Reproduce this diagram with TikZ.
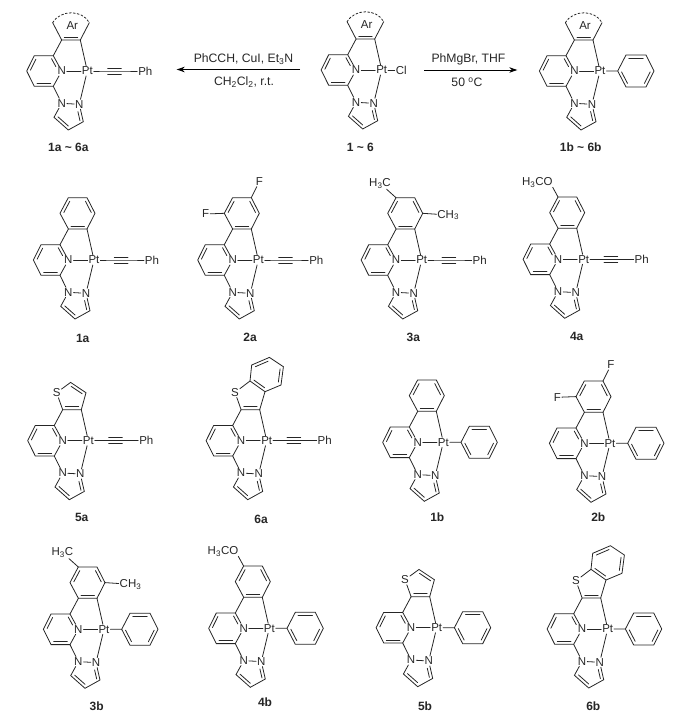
\documentclass[tikz,border=0pt]{standalone}
\usepackage{fontspec}
\setmainfont{Liberation Sans}
\usetikzlibrary{calc,arrows.meta}
\tikzset{
  bond/.style={line width=0.8pt, line cap=round, color=black!85},
  atom/.style={font=\fontsize{11.5}{12}\selectfont, inner sep=0.8pt, text=black!85},
  cmpd/.style={font=\fontsize{12}{12}\selectfont\bfseries, inner sep=0pt, text=black!85},
  cond/.style={font=\fontsize{12.2}{13}\selectfont, inner sep=0pt, text=black!85},
  rxn/.style={line width=0.9pt, -{Stealth[length=8pt,width=5.5pt]}, color=black}
}
% inner line of a double bond, on the right hand side of #1 -> #2
\newcommand{\dbl}[2]{\draw[bond] ($(#1)!.14!(#2)!3pt!-90:(#2)$) -- ($(#2)!.14!(#1)!3pt!90:(#1)$);}
% pyridine + pyrazole + Pt
\newcommand{\pincer}{%
  \node[atom] (Pt) at (0,0) {Pt};
  \node[atom] (N) at (-25.6,0) {N};
  \node[atom] (Na) at (-25.6,32.3) {N};
  \node[atom] (Nb) at (-8,33.3) {N};
  \coordinate (c2) at (-34,-15.3);
  \coordinate (c3) at (-53,-15.3);
  \coordinate (c4) at (-60.6,0);
  \coordinate (c5) at (-53,15.3);
  \coordinate (c6) at (-34,15.3);
  \coordinate (ca) at (-25.6,-31);
  \coordinate (cb) at (-7,-31);
  \coordinate (pa) at (-4,50.7);
  \coordinate (pb) at (-19,59);
  \coordinate (pc) at (-33.3,46.3);
  \coordinate (n0) at ($(c2)!.72!(N)$);
  \coordinate (n2) at ($(pa)!.72!(Nb)$);
  \draw[bond] (N) -- (Pt);
  \draw[bond] (Pt) -- (Nb);
  \draw[bond] (Pt) -- (cb);
  \draw[bond] (N) -- (c2) -- (c3) -- (c4) -- (c5) -- (c6) -- (N);
  \draw[bond] (c2) -- (ca) -- (cb);
  \draw[bond] (c6) -- (Na) -- (Nb);
  \draw[bond] (Nb) -- (pa) -- (pb) -- (pc) -- (Na);
  \dbl{c6}{c5}
  \dbl{c4}{c3}
  \dbl{c2}{n0}
  \dbl{n2}{pa}
  \dbl{pb}{pc}
  \dbl{cb}{ca}
}
% six ring on ca, cb
\newcommand{\benzo}{%
  \coordinate (r3) at (1,-46.7);
  \coordinate (r4) at (-7,-62.3);
  \coordinate (r5) at (-25.7,-62.3);
  \coordinate (r6) at (-34,-46.7);
  \draw[bond] (cb) -- (r3) -- (r4) -- (r5) -- (r6) -- (ca);
  \dbl{r6}{r5}
  \dbl{r4}{r3}
}
\newcommand{\ringAr}{%
  \coordinate (ar1) at (-34.6,-48.3);
  \coordinate (ar2) at (2,-48.3);
  \node[atom] (Ar) at (-15,-45) {Ar};
  \draw[bond] (ca) -- (ar1);
  \draw[bond] (cb) -- (ar2);
  \draw[bond, dashed, dash pattern=on 2pt off 2pt] (ar1) .. controls (-27,-61.5) and (-5,-61.5) .. (ar2);
}
\newcommand{\ringF}{%
  \benzo
  \node[atom] (Fa) at (1,-78.3) {F};
  \node[atom] (Fb) at (-52.7,-46) {F};
  \draw[bond] (r4) -- (Fa);
  \draw[bond] (r6) -- (Fb);
}
\newcommand{\ringMe}{%
  \benzo
  \node[atom] (Mea) at (-41.7,-76.7) {H\textsubscript{3}C};
  \node[atom] (Meb) at (26.5,-45) {CH\textsubscript{3}};
  \draw[bond] (r5) -- (Mea);
  \draw[bond] (r3) -- (Meb);
}
\newcommand{\ringOMe}{%
  \benzo
  \node[atom] (Ome) at (-46.3,-76.7) {H\textsubscript{3}CO};
  \coordinate (oe) at (-31,-72);
  \draw[bond] (r5) -- (oe);
}
\newcommand{\ringS}{%
  \node[atom] (S) at (-31.7,-48) {S};
  \coordinate (t1) at (-17.7,-58.3);
  \coordinate (t2) at (-2.3,-48);
  \draw[bond] (ca) -- (S) -- (t1) -- (t2) -- (cb);
  \dbl{t1}{t2}
}
\newcommand{\ringBS}{%
  \node[atom] (S) at (-31.7,-48.3) {S};
  \coordinate (t1) at (-16.7,-59.7);
  \coordinate (t2) at (-1.7,-49);
  \coordinate (b1) at (-15,-75.7);
  \coordinate (b2) at (2.7,-83.3);
  \coordinate (b3) at (16.7,-74);
  \coordinate (b4) at (14.3,-55.7);
  \draw[bond] (ca) -- (S) -- (t1) -- (t2) -- (cb);
  \draw[bond] (t1) -- (b1) -- (b2) -- (b3) -- (b4) -- (t2);
  \dbl{b1}{b2}
  \dbl{b3}{b4}
  \dbl{t2}{t1}
}
% groups on Pt
\newcommand{\armCl}{%
  \node[atom] (Cl) at (19.5,0) {Cl};
  \draw[bond] (Pt) -- (Cl);
}
\newcommand{\armCC}{%
  \node[atom] (Ph) at (58,0) {Ph};
  \coordinate (ya) at (17.7,0);
  \coordinate (yb) at (36.7,0);
  \draw[bond] (Pt) -- (ya) -- (yb) -- (Ph);
  \dbl{ya}{yb}
  \dbl{yb}{ya}
}
\newcommand{\armPh}{%
  \coordinate (h1) at (17.7,0);
  \coordinate (h2) at (26,-16);
  \coordinate (h3) at (46,-16);
  \coordinate (h4) at (54,0);
  \coordinate (h5) at (46,16);
  \coordinate (h6) at (26,16);
  \draw[bond] (Pt) -- (h1) -- (h2) -- (h3) -- (h4) -- (h5) -- (h6) -- (h1);
  \dbl{h2}{h3}
  \dbl{h4}{h5}
  \dbl{h6}{h1}
}
\newcommand{\complex}[4]{%
  \begin{scope}[shift={(#1,#2)}]
    \pincer #3 #4
  \end{scope}
}
\begin{document}
\begin{tikzpicture}[x=1pt,y=-1pt]
\useasboundingbox (0,0) rectangle (686,728);
% top row
\complex{87.3}{71}{\ringAr}{\armCC}
\complex{381.7}{70}{\ringAr}{\armCl}
\complex{600}{71}{\ringAr}{\armPh}
\coordinate (la) at (300,69.5);
\coordinate (lb) at (176.7,69.5);
\coordinate (ra) at (424.3,70);
\coordinate (rb) at (517.3,70);
\draw[rxn] (la) -- (lb);
\draw[rxn] (ra) -- (rb);
\node[cond] (c1) at (243.5,59) {PhCCH, CuI, Et\textsubscript{3}N};
\node[cond] (c2) at (244,82) {CH\textsubscript{2}Cl\textsubscript{2}, r.t.};
\node[cond] (c3) at (468.5,59) {PhMgBr, THF};
\node[cond] (c4) at (467,82) {50 \textsuperscript{o}C};
\node[cmpd] (l1) at (68.3,147.5) {1a \textasciitilde{} 6a};
\node[cmpd] (l2) at (360.3,147) {1 \textasciitilde{} 6};
\node[cmpd] (l3) at (580.7,147.5) {1b \textasciitilde{} 6b};
% alkynyl complexes
\complex{94}{260}{\benzo}{\armCC}
\complex{258.3}{260}{\ringF}{\armCC}
\complex{421.7}{260}{\ringMe}{\armCC}
\complex{583.7}{259.3}{\ringOMe}{\armCC}
\complex{88.3}{440.7}{\ringS}{\armCC}
\complex{266.7}{440.7}{\ringBS}{\armCC}
% phenyl complexes
\complex{443.3}{442.3}{\benzo}{\armPh}
\complex{610}{443.3}{\ringF}{\armPh}
\complex{104}{629.3}{\ringMe}{\armPh}
\complex{269.3}{628.3}{\ringOMe}{\armPh}
\complex{436.7}{627.7}{\ringS}{\armPh}
\complex{607.7}{629}{\ringBS}{\armPh}
% labels
\node[cmpd] (m1a) at (82.7,338) {1a};
\node[cmpd] (m2a) at (250,337) {2a};
\node[cmpd] (m3a) at (413.3,337) {3a};
\node[cmpd] (m4a) at (576.7,336) {4a};
\node[cmpd] (m5a) at (81.7,517) {5a};
\node[cmpd] (m6a) at (261,519) {6a};
\node[cmpd] (m1b) at (437.3,517.3) {1b};
\node[cmpd] (m2b) at (598.3,517) {2b};
\node[cmpd] (m3b) at (96.7,706) {3b};
\node[cmpd] (m4b) at (265,702.3) {4b};
\node[cmpd] (m5b) at (425,706.7) {5b};
\node[cmpd] (m6b) at (593.3,706.7) {6b};
\end{tikzpicture}
\end{document}
